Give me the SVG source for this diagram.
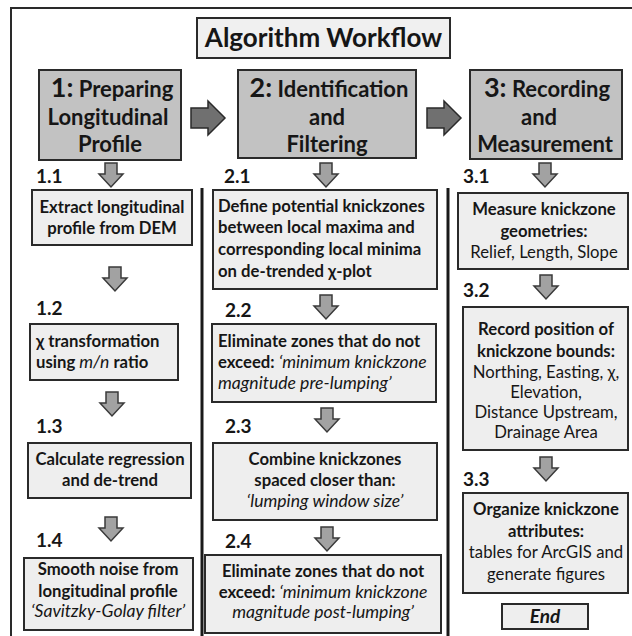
<svg xmlns="http://www.w3.org/2000/svg" width="632" height="636" viewBox="0 0 632 636">
<style>
text{font-family:Lato,"Open Sans","Liberation Sans",sans-serif;fill:#161616}
.b{font-weight:bold}
.t{font-size:16.7px}
.c{text-anchor:middle}
.r{font-weight:normal}
.i{font-style:italic;font-weight:normal;font-size:17.6px}
.h{font-size:22px;font-weight:bold}
.hn{font-size:27px;font-weight:bold}
.lbl{font-size:19px;font-weight:bold}
.box{fill:#eeeeee;stroke:#2a2a2a;stroke-width:2}
.hbox{fill:#c2c2c2;stroke:#2a2a2a;stroke-width:2}
.da{fill:#a2a2a2;stroke:#3a3a3a;stroke-width:1.5}
.ra{fill:#707070;stroke:#2a2a2a;stroke-width:1.5}
.div{stroke:#1a1a1a;stroke-width:3}
</style>
<defs>
<path id="down" d="M-6,0 H6 V11 H12 L0,24 L-12,11 H-6 Z"/>
<path id="right" d="M0,-10 H17 V-17 L34,0 L17,17 V10 H0 Z"/>
</defs>
<rect x="0" y="0" width="632" height="636" fill="#ffffff"/>
<rect x="11" y="8" width="640" height="650" fill="none" stroke="#2a2a2a" stroke-width="2"/>

<g id="title">
<rect x="197" y="18" width="253" height="40" fill="#f0f0f0" stroke="#2a2a2a" stroke-width="2"/>
<text x="323.5" y="47" class="c b" font-size="26">Algorithm Workflow</text>
</g>

<g id="stage1">
<rect class="hbox" x="39" y="70" width="142" height="90"/>
<text x="112" y="97" class="c h"><tspan class="hn">1:</tspan> Preparing</text>
<text x="108" y="125" class="c h">Longitudinal</text>
<text x="110" y="152" class="c h">Profile</text>
</g>
<g id="stage2">
<rect class="hbox" x="238" y="70" width="178" height="88"/>
<text x="329" y="97" class="c h"><tspan class="hn">2:</tspan> Identification</text>
<text x="327" y="125" class="c h">and</text>
<text x="327" y="152" class="c h">Filtering</text>
</g>
<g id="stage3">
<rect class="hbox" x="470" y="70" width="152" height="89"/>
<text x="547" y="97" class="c h"><tspan class="hn">3:</tspan> Recording</text>
<text x="539" y="125" class="c h">and</text>
<text x="545" y="152" class="c h">Measurement</text>
</g>

<g id="labels">
<text x="36" y="183" class="lbl">1.1</text>
<text x="36" y="315" class="lbl">1.2</text>
<text x="36" y="433" class="lbl">1.3</text>
<text x="36" y="547" class="lbl">1.4</text>
<text x="224" y="183" class="lbl">2.1</text>
<text x="225" y="317" class="lbl">2.2</text>
<text x="225" y="433" class="lbl">2.3</text>
<text x="225" y="548" class="lbl">2.4</text>
<text x="463" y="183" class="lbl">3.1</text>
<text x="463" y="297" class="lbl">3.2</text>
<text x="463" y="486" class="lbl">3.3</text>
</g>

<g id="s11">
<rect class="box" x="32" y="190" width="160" height="55"/>
<text x="112" y="213" class="c t b">Extract longitudinal</text>
<text x="112" y="234" class="c t b">profile from DEM</text>
</g>
<g id="s12">
<rect class="box" x="30" y="324" width="148" height="56"/>
<text x="36" y="347" class="t b">χ transformation</text>
<text x="36" y="368" class="t b">using <tspan class="i">m/n</tspan> ratio</text>
</g>
<g id="s13">
<rect class="box" x="28" y="443" width="163" height="55"/>
<text x="110" y="465" class="c t b">Calculate regression</text>
<text x="110" y="486" class="c t b">and de-trend</text>
</g>
<g id="s14">
<rect class="box" x="24" y="558" width="169" height="72"/>
<text x="108" y="575" class="c t b">Smooth noise from</text>
<text x="108" y="597" class="c t b">longitudinal profile</text>
<text x="108" y="617" class="c t i">‘Savitzky-Golay filter’</text>
</g>

<g id="s21">
<rect class="box" x="213" y="190" width="224" height="99"/>
<text x="218" y="212" class="t b">Define potential knickzones</text>
<text x="218" y="233" class="t b">between local maxima and</text>
<text x="218" y="255" class="t b">corresponding local minima</text>
<text x="218" y="277" class="t b">on de-trended χ-plot</text>
</g>
<g id="s22">
<rect class="box" x="212" y="324" width="224" height="78"/>
<text x="218" y="347" class="t b">Eliminate zones that do not</text>
<text x="218" y="368" class="t b">exceed: <tspan class="i">‘minimum knickzone</tspan></text>
<text x="218" y="389" class="t i">magnitude pre-lumping’</text>
</g>
<g id="s23">
<rect class="box" x="213" y="443" width="224" height="77"/>
<text x="325" y="465" class="c t b">Combine knickzones</text>
<text x="325" y="486" class="c t b">spaced closer than:</text>
<text x="325" y="507" class="c t i">‘lumping window size’</text>
</g>
<g id="s24">
<rect class="box" x="205" y="555" width="236" height="78"/>
<text x="323" y="577" class="c t b">Eliminate zones that do not</text>
<text x="323" y="598" class="c t b">exceed: <tspan class="i">‘minimum knickzone</tspan></text>
<text x="323" y="618" class="c t i">magnitude post-lumping’</text>
</g>

<g id="s31">
<rect class="box" x="458" y="193" width="170" height="76"/>
<text x="544" y="215" class="c t b">Measure knickzone</text>
<text x="544" y="237" class="c t b">geometries:</text>
<text x="544" y="258" class="c t r">Relief, Length, Slope</text>
</g>
<g id="s32">
<rect class="box" x="463" y="307" width="165" height="143"/>
<text x="546" y="335" class="c t b">Record position of</text>
<text x="546" y="357" class="c t b">knickzone bounds:</text>
<text x="546" y="378" class="c t r">Northing, Easting, χ,</text>
<text x="546" y="398" class="c t r">Elevation,</text>
<text x="546" y="418" class="c t r">Distance Upstream,</text>
<text x="546" y="438" class="c t r">Drainage Area</text>
</g>
<g id="s33">
<rect class="box" x="463" y="493" width="165" height="100"/>
<text x="546" y="515" class="c t b">Organize knickzone</text>
<text x="546" y="537" class="c t b">attributes:</text>
<text x="546" y="558" class="c t r">tables for ArcGIS and</text>
<text x="546" y="580" class="c t r">generate figures</text>
</g>
<g id="end">
<rect class="box" x="502" y="604" width="86" height="25"/>
<text x="545" y="623" class="c b" font-size="19" font-style="italic">End</text>
</g>

<g id="connectors">
<line class="div" x1="202" y1="188" x2="202" y2="636"/>
<line class="div" x1="448" y1="188" x2="448" y2="636"/>
<use href="#right" class="ra" transform="translate(191,118)"/>
<use href="#right" class="ra" transform="translate(427,118)"/>
<use href="#down" class="da" transform="translate(111,163)"/>
<use href="#down" class="da" transform="translate(115,267)"/>
<use href="#down" class="da" transform="translate(112,392)"/>
<use href="#down" class="da" transform="translate(111,517)"/>
<use href="#down" class="da" transform="translate(326,163)"/>
<use href="#down" class="da" transform="translate(326,295)"/>
<use href="#down" class="da" transform="translate(327,408)"/>
<use href="#down" class="da" transform="translate(327,527)"/>
<use href="#down" class="da" transform="translate(545,163)"/>
<use href="#down" class="da" transform="translate(546,275)"/>
<use href="#down" class="da" transform="translate(546,457)"/>
</g>
</svg>
